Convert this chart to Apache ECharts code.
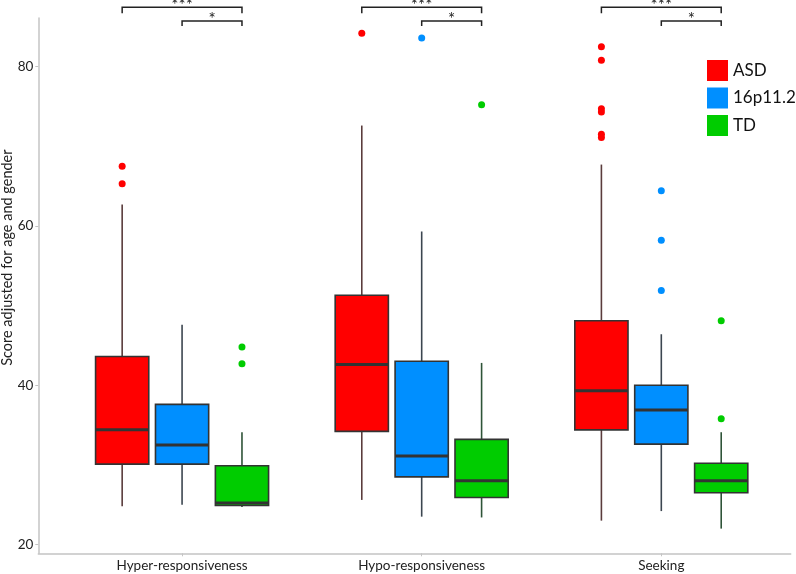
<!DOCTYPE html>
<html>
<head>
<meta charset="utf-8">
<script src="https://cdn.jsdelivr.net/npm/echarts@6/dist/echarts.min.js"></script>
<style>
  html, body { margin: 0; padding: 0; background: #fff; }
  #chart { width: 796px; height: 574px; }
</style>
</head>
<body>
<div id="chart"></div>
<script>
var categories = ['Hyper-responsiveness', 'Hypo-responsiveness', 'Seeking'];
var groups = ['ASD', '16p11.2', 'TD'];
var yTicks = [20, 40, 60, 80];

// [lower whisker, q1, median, q3, upper whisker] for each category
var asdBox = [[24.8, 30.1, 34.4, 43.6, 62.7], [25.6, 34.2, 42.6, 51.3, 72.6], [23.0, 34.4, 39.3, 48.1, 67.7]];
var p16Box = [[25.0, 30.1, 32.5, 37.6, 47.6], [23.5, 28.5, 31.1, 43.0, 59.3], [24.2, 32.6, 36.9, 40.0, 46.4]];
var tdBox  = [[24.7, 24.9, 25.2, 29.9, 34.1], [23.4, 25.9, 28.0, 33.2, 42.8], [22.0, 26.5, 28.0, 30.2, 34.1]];

// outliers for each category
var asdOut = [[67.5, 65.3], [84.2], [82.5, 80.8, 74.7, 74.3, 71.5, 71.1]];
var p16Out = [[], [83.6], [64.4, 58.2, 51.9]];
var tdOut  = [[44.8, 42.7], [75.2], [48.1, 35.8]];

// significance brackets: [from group, to group, label], same in each category
var brackets = [[0, 2, '***'], [1, 2, '*']];

var boxes = [asdBox, p16Box, tdBox];
var outliers = [asdOut, p16Out, tdOut];
var colors = ['#ff0000', '#008fff', '#00cc00'];
var whiskerColors = ['#5a3c3c', '#3c4650', '#2f5438'];
var groupOffset = [-0.25, 0, 0.25];
var boxWidth = 0.222;
var font = 'Lato, "Open Sans", sans-serif';

function boxRenderer(g) {
    return function (params, api) {
        var x = api.value(0) + groupOffset[g];
        var half = api.size([boxWidth, 0])[0] / 2;
        var p = [1, 2, 3, 4, 5].map(function (i) { return api.coord([x, api.value(i)]); });
        var cx = p[0][0];
        var ws = { stroke: whiskerColors[g], lineWidth: 1.6 };
        return {
            type: 'group',
            children: [
                { type: 'line', shape: { x1: cx, y1: p[0][1], x2: cx, y2: p[1][1] }, style: ws },
                { type: 'line', shape: { x1: cx, y1: p[3][1], x2: cx, y2: p[4][1] }, style: ws },
                { type: 'rect', shape: { x: cx - half, y: p[3][1], width: half * 2, height: p[1][1] - p[3][1] },
                  style: { fill: colors[g], stroke: '#333', lineWidth: 1.6 } },
                { type: 'line', shape: { x1: cx - half, y1: p[2][1], x2: cx + half, y2: p[2][1] },
                  style: { stroke: '#333', lineWidth: 3 } }
            ]
        };
    };
}

function bracketRenderer(params, api) {
    var cat = api.value(0);
    var top = api.coord([cat, 86.1])[1];
    var children = [];
    brackets.forEach(function (b, i) {
        var x1 = api.coord([cat + groupOffset[b[0]], 0])[0];
        var x2 = api.coord([cat + groupOffset[b[1]], 0])[0];
        var y = top - 10.7 + i * 13.7;
        var drop = i === 0 ? 6 : 5;
        children.push({
            type: 'polyline',
            shape: { points: [[x1, y + drop], [x1, y], [x2, y], [x2, y + drop]] },
            style: { stroke: '#222', lineWidth: 1.5, fill: null }
        });
        children.push({
            type: 'text',
            style: { text: b[2], x: (x1 + x2) / 2, y: y + 7, align: 'center', verticalAlign: 'bottom',
                     fill: '#222', font: '17px ' + font }
        });
    });
    return { type: 'group', children: children };
}

var series = [];
groups.forEach(function (name, g) {
    series.push({
        name: name,
        type: 'custom',
        itemStyle: { color: colors[g] },
        renderItem: boxRenderer(g),
        encode: { x: 0, y: [1, 2, 3, 4, 5] },
        data: boxes[g].map(function (b, c) { return [c + 1].concat(b); }),
        z: 2
    });
    var pts = [];
    outliers[g].forEach(function (vals, c) {
        vals.forEach(function (v) { pts.push([c + 1 + groupOffset[g], v]); });
    });
    series.push({
        name: name,
        type: 'scatter',
        symbolSize: 7,
        itemStyle: { color: colors[g], opacity: 1 },
        data: pts,
        z: 3
    });
});
series.push({
    type: 'custom',
    renderItem: bracketRenderer,
    clip: false,
    silent: true,
    encode: { x: 0 },
    data: categories.map(function (c, i) { return [i + 1]; })
});

var chart = echarts.init(document.getElementById('chart'));
chart.setOption({
    animation: false,
    grid: { left: 38.3, right: 5.3, top: 18, bottom: 20.7, outerBoundsMode: 'none' },
    legend: {
        data: groups,
        orient: 'vertical',
        left: 707,
        top: 60,
        padding: 0,
        icon: 'rect',
        itemWidth: 21,
        itemHeight: 21,
        itemGap: 6.5,
        itemStyle: { borderWidth: 0 },
        textStyle: { fontSize: 17, color: '#111', fontFamily: font }
    },
    xAxis: {
        type: 'value',
        min: 0.4,
        max: 3.54,
        splitLine: { show: false },
        axisLine: { lineStyle: { color: '#c4c4c4', width: 1.5 } },
        axisTick: { customValues: [1, 2, 3], length: 3, lineStyle: { color: '#c4c4c4' } },
        axisLabel: {
            customValues: [1, 2, 3],
            formatter: function (v) { return categories[Math.round(v) - 1]; },
            color: '#222', fontSize: 13.5, fontFamily: font, margin: 5
        }
    },
    yAxis: {
        type: 'value',
        min: 18.9,
        max: 86.1,
        name: 'Score adjusted for age and gender',
        nameLocation: 'middle',
        nameGap: 23,
        nameMoveOverlap: false,
        nameTextStyle: { color: '#222', fontSize: 14.5, fontFamily: font, padding: [0, 0, 0, 56] },
        splitLine: { show: false },
        axisLine: { show: true, lineStyle: { color: '#c4c4c4', width: 1.5 } },
        axisTick: { show: true, customValues: yTicks, length: 3, lineStyle: { color: '#c4c4c4' } },
        axisLabel: { customValues: yTicks, color: '#222', fontSize: 13.5, fontFamily: font, margin: 5 }
    },
    series: series
});
</script>
</body>
</html>
